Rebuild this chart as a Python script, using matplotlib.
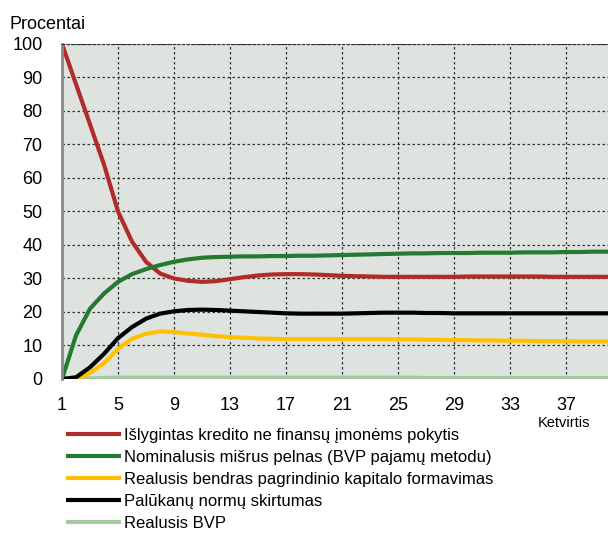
import numpy as np
import matplotlib.pyplot as plt

plt.rcParams['font.family'] = ['Liberation Sans', 'DejaVu Sans']

quarters = list(range(1, 41))

kreditas = [100, 88, 76, 64, 50, 41, 35, 31.5, 30, 29.3, 29, 29.2, 29.8, 30.4, 30.9,
            31.2, 31.3, 31.3, 31.2, 31.0, 30.8, 30.7, 30.6, 30.5, 30.5, 30.5, 30.5,
            30.5, 30.5, 30.6, 30.6, 30.6, 30.6, 30.6, 30.6, 30.5, 30.5, 30.5, 30.5, 30.5]
pelnas = [0, 13, 21, 25.5, 29, 31.3, 32.8, 34.0, 35.0, 35.7, 36.2, 36.4, 36.5, 36.6,
          36.6, 36.7, 36.7, 36.8, 36.8, 36.9, 37.0, 37.1, 37.2, 37.3, 37.4, 37.5,
          37.5, 37.6, 37.6, 37.6, 37.7, 37.7, 37.7, 37.8, 37.8, 37.8, 37.9, 37.9, 38.0, 38.0]
investicijos = [0, 0, 1.8, 4.7, 9, 12, 13.5, 14.2, 14.0, 13.6, 13.2, 12.8, 12.5, 12.3,
                12.1, 12.0, 11.9, 11.9, 11.9, 11.9, 11.9, 11.9, 11.9, 11.9, 11.8, 11.8,
                11.7, 11.7, 11.6, 11.6, 11.5, 11.5, 11.4, 11.4, 11.3, 11.3, 11.3, 11.2, 11.2, 11.2]
palukanos = [0, 0.5, 3.5, 7.5, 12.2, 15.5, 18, 19.5, 20.2, 20.6, 20.7, 20.6, 20.4,
             20.2, 20.0, 19.8, 19.6, 19.5, 19.5, 19.5, 19.5, 19.6, 19.7, 19.8, 19.8,
             19.8, 19.7, 19.7, 19.6, 19.6, 19.6, 19.6, 19.6, 19.6, 19.6, 19.6, 19.6, 19.6, 19.6, 19.6]
bvp = [0, 0.1, 0.2, 0.3, 0.4, 0.4, 0.4, 0.4, 0.4, 0.4, 0.4, 0.4, 0.4, 0.4, 0.4, 0.4,
       0.4, 0.4, 0.4, 0.4, 0.4, 0.4, 0.4, 0.4, 0.4, 0.4, 0.3, 0.3, 0.3, 0.3, 0.3, 0.3,
       0.3, 0.3, 0.3, 0.3, 0.3, 0.3, 0.3, 0.3]

labels = ['Išlygintas kredito ne finansų įmonėms pokytis',
          'Nominalusis mišrus pelnas (BVP pajamų metodu)',
          'Realusis bendras pagrindinio kapitalo formavimas',
          'Palūkanų normų skirtumas',
          'Realusis BVP']
colors = ['#b22b2b', '#237a30', '#ffc000', '#000000', '#a8c8a4']
series = [kreditas, pelnas, investicijos, palukanos, bvp]

fig = plt.figure(figsize=(6.08, 5.35), dpi=100)
ax = fig.add_axes([0.102, 0.2916, 0.898, 0.6262])
ax.set_facecolor('#dfe3e0')

lines = []
for s, c, l in zip(series, colors, labels):
    ln, = ax.plot(quarters, s, color=c, lw=3, label=l, solid_capstyle='butt')
    lines.append(ln)
lines[4].set_zorder(1.5)

ax.set_xlim(1, 40)
ax.set_ylim(0, 100)
ax.set_xticks(range(1, 40, 4))
ax.set_yticks(range(0, 101, 10))
ax.tick_params(length=0, labelsize=13)
ax.tick_params(axis='x', pad=13)
ax.tick_params(axis='y', pad=14)
ax.grid(True, color='#333333', linestyle=(0, (2, 2)), lw=0.9)
ax.set_axisbelow(True)
for sp in ['right', 'bottom']:
    ax.spines[sp].set_visible(False)
ax.spines['top'].set_color('#333333')
ax.spines['top'].set_linestyle((0, (2, 2)))
ax.spines['left'].set_color('#888888')
ax.spines['left'].set_linewidth(2)

fig.text(0.016, 0.955, 'Procentai', fontsize=13, va='center')
fig.text(0.928, 0.209, 'Ketvirtis', fontsize=10.5, ha='center', va='center')

fig.legend(handles=lines, loc='upper left', bbox_to_anchor=(0.108, 0.2),
           frameon=False, fontsize=12, handlelength=3.3, handletextpad=0.2,
           labelspacing=0.42, borderaxespad=0, borderpad=0)

fig.savefig('out.png', dpi=100)
